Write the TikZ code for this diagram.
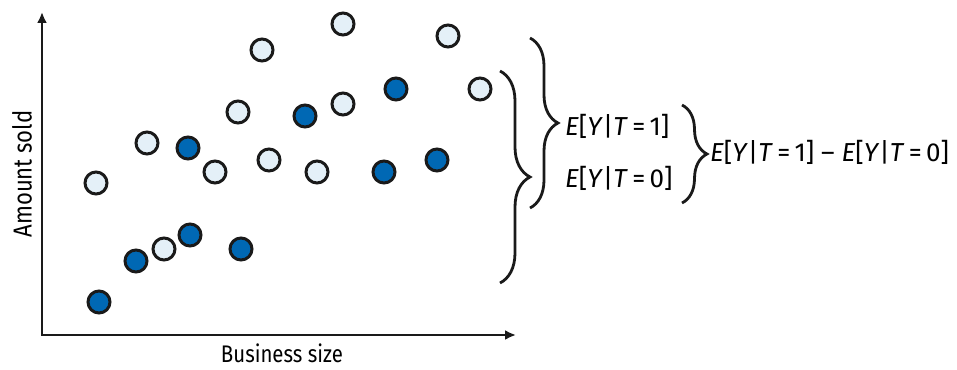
\documentclass[tikz,border=0pt]{standalone}
\usepackage{fontspec}
\setmainfont{Fira Sans}
\newfontfamily\axisfont{Fira Sans}[FakeStretch = 0.85]
\usepackage{tikz}
\usetikzlibrary{arrows.meta, decorations.pathreplacing}

\definecolor{treated}{HTML}{0068B4}
\definecolor{untreated}{HTML}{E4F0F8}
\definecolor{ink}{HTML}{1A1A1A}

\tikzset{
  lt/.style = {draw = ink, circle, line width = 3pt, fill = untreated, minimum size = 22pt, inner sep = 0pt},
  dk/.style = {draw = ink, circle, line width = 3pt, fill = treated, minimum size = 22pt, inner sep = 0pt},
  cbrace/.style = {draw = ink, line width = 2.8pt, decorate, decoration = {brace, amplitude = #1}},
  expect/.style = {anchor = west, inner sep = 0pt, font = \fontsize{26}{30}\selectfont},
  axislabel/.style = {font = \axisfont\fontsize{#1}{28}\selectfont}
}
\newcommand{\EY}[1]{\textit{E}[\textit{Y}|\textit{T}\,=\,#1]}

\begin{document}
\begin{tikzpicture} [x = 1pt, y = -1pt]
\useasboundingbox (0,0) rectangle (957,369);
\coordinate (o) at (42,335);
\coordinate (ytip) at (42,12);
\coordinate (xtip) at (516,335);
\draw[ink, line width = 2.8pt, {Latex[length = 11pt, width = 10pt]}-{Latex[length = 11pt, width = 10pt]}] (ytip) -- (o) -- (xtip);
\node[axislabel = 26, rotate = 90](ylab) at (22,174){Amount sold};
\node[axislabel = 24](xlab) at (282,353){Business size};
\node[lt](l1) at (96,183){};
\node[lt](l2) at (147,143){};
\node[lt](l3) at (262,50){};
\node[lt](l4) at (343,24){};
\node[lt](l5) at (448,36){};
\node[lt](l6) at (480,89){};
\node[lt](l7) at (238,112){};
\node[lt](l8) at (343,104){};
\node[lt](l9) at (215,172){};
\node[lt](l10) at (269,160){};
\node[lt](l11) at (317,172){};
\node[lt](l12) at (164,249){};
\node[dk](d1) at (188,148){};
\node[dk](d2) at (305,116){};
\node[dk](d3) at (396,89){};
\node[dk](d4) at (384,172){};
\node[dk](d5) at (437,160){};
\node[dk](d6) at (136,261){};
\node[dk](d7) at (190,235){};
\node[dk](d8) at (241,249){};
\node[dk](d9) at (99,302){};
\coordinate (b1t) at (530,38);
\coordinate (b1b) at (530,208);
\coordinate (b2t) at (500,71);
\coordinate (b2b) at (500,283);
\coordinate (b3t) at (682,105);
\coordinate (b3b) at (682,203);
\draw[cbrace = 28pt] (b1t) -- (b1b);
\draw[cbrace = 30pt] (b2t) -- (b2b);
\draw[cbrace = 25pt] (b3t) -- (b3b);
\node[expect](e1) at (565,126){\EY{1}};
\node[expect](e0) at (565,178){\EY{0}};
\node[expect](diff) at (710,152){\EY{1} -- \EY{0}};
\end{tikzpicture}
\end{document}
